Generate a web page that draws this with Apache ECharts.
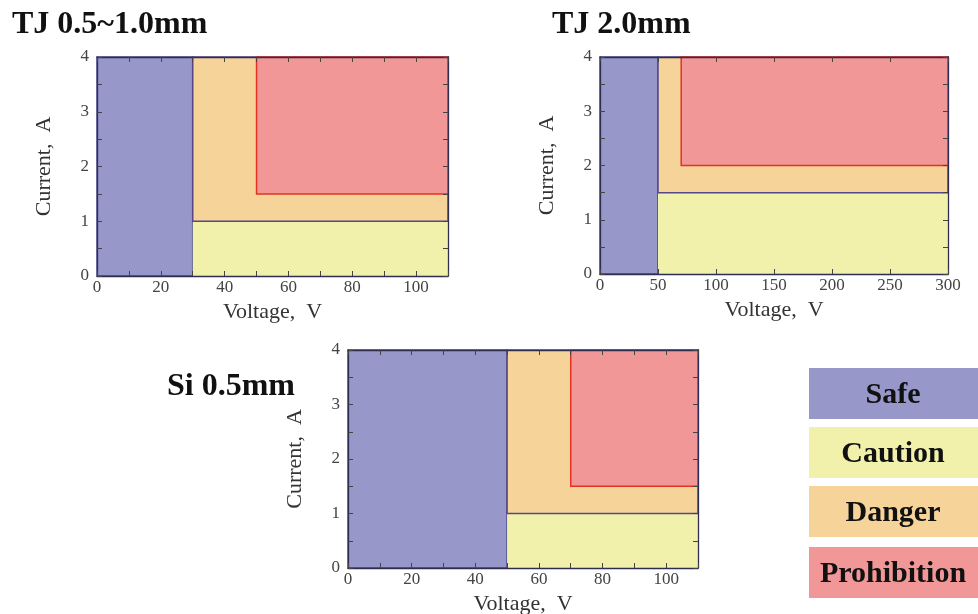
<!DOCTYPE html>
<html>
<head>
<meta charset="utf-8">
<script src="https://cdn.jsdelivr.net/npm/echarts@6/dist/echarts.min.js"></script>
<style>
  html, body { margin: 0; padding: 0; background: #fff; }
  #main { width: 978px; height: 614px; }
</style>
</head>
<body>
<div id="main"></div>
<script>
// 图表标题
const panelTitles = ['TJ 0.5~1.0mm', 'TJ 2.0mm', 'Si 0.5mm']
// 电压轴: 最大值, 刻度间隔, 标签间隔
const voltageMax = [110, 300, 110]
const voltageTick = [10, 50, 10]
const voltageLabelStep = [20, 50, 20]
// 电流轴
const currentMax = [4, 4, 4]
const currentTick = 0.5
// 每个区域 [x0, x1, y0, y1]
const safeZone = [[0, 30, 0, 4], [0, 50, 0, 4], [0, 50, 0, 4]]
const cautionZone = [[30, 110, 0, 1], [50, 300, 0, 1.5], [50, 110, 0, 1]]
const dangerZone = [[30, 110, 1, 4], [50, 300, 1.5, 4], [50, 110, 1, 4]]
const prohibitionZone = [[50, 110, 1.5, 4], [70, 300, 2, 4], [70, 110, 1.5, 4]]
const legendLabels = ['Safe', 'Caution', 'Danger', 'Prohibition']

const colors = ['#9797c9', '#f1f1ab', '#f6d398', '#f29797']
const strokes = ['#45458c', null, '#55478a', '#e0341f']
const serif = 'Liberation Serif, Times New Roman, serif'

const grids = [
  { left: 97, top: 57, width: 351, height: 219, outerBoundsMode: 'none' },
  { left: 600, top: 57, width: 348, height: 217, outerBoundsMode: 'none' },
  { left: 348, top: 350, width: 350, height: 218, outerBoundsMode: 'none' }
]

const xAxes = []
const yAxes = []
const series = []
const zones = [safeZone, cautionZone, dangerZone, prohibitionZone]

grids.forEach((g, i) => {
  const common = {
    gridIndex: i,
    min: 0,
    z: 10,
    axisLine: { onZero: false, lineStyle: { color: '#2e2e55', width: 1.3 } },
    axisTick: { show: true, inside: true, length: 5, lineStyle: { color: '#444' } },
    splitLine: { show: false }
  }
  const xLabel = (v) => (v % voltageLabelStep[i] === 0 && v < voltageMax[i] ? String(v) : '')
  const yLabel = (v) => (Number.isInteger(v) ? String(v) : '')
  xAxes.push(Object.assign({}, common, {
    type: 'value',
    max: voltageMax[i],
    interval: voltageTick[i],
    position: 'bottom',
    name: 'Voltage,  V',
    nameLocation: 'middle',
    nameGap: 25,
    nameTextStyle: { fontFamily: serif, fontSize: 22, color: '#333' },
    axisLabel: { fontFamily: serif, fontSize: 17, color: '#444', margin: 3, formatter: i === 1 ? undefined : xLabel }
  }))
  xAxes.push(Object.assign({}, common, {
    type: 'value',
    max: voltageMax[i],
    interval: voltageTick[i],
    position: 'top',
    axisLabel: { show: false }
  }))
  yAxes.push(Object.assign({}, common, {
    type: 'value',
    max: currentMax[i],
    interval: currentTick,
    position: 'left',
    name: 'Current,  A',
    nameLocation: 'middle',
    nameGap: 42,
    nameTextStyle: { fontFamily: serif, fontSize: 22, color: '#333' },
    axisLabel: { fontFamily: serif, fontSize: 17, color: '#444', margin: 8, formatter: yLabel }
  }))
  yAxes.push(Object.assign({}, common, {
    type: 'value',
    max: currentMax[i],
    interval: currentTick,
    position: 'right',
    axisLabel: { show: false }
  }))

  // 区域矩形
  zones.forEach((zone, k) => {
    series.push({
      type: 'custom',
      name: legendLabels[k],
      xAxisIndex: i * 2,
      yAxisIndex: i * 2,
      z: 2 + k,
      data: [zone[i]],
      renderItem (params, api) {
        const p0 = api.coord([api.value(0), api.value(3)])
        const p1 = api.coord([api.value(1), api.value(2)])
        return {
          type: 'rect',
          shape: { x: p0[0], y: p0[1], width: p1[0] - p0[0], height: p1[1] - p0[1] },
          style: {
            fill: colors[k],
            stroke: strokes[k] || 'none',
            lineWidth: 1.5
          }
        }
      }
    })
  })
})

// 标题
const titlePos = [[12, 9], [552, 9], [167, 371]]
const graphic = panelTitles.map((t, i) => ({
  type: 'text',
  left: titlePos[i][0],
  top: titlePos[i][1],
  style: { text: t, font: 'bold 32px ' + serif, fill: '#111' }
}))

// 图例方块
const legendTop = [368, 427, 486, 547]
legendLabels.forEach((label, k) => {
  graphic.push({
    type: 'group',
    left: 809,
    top: legendTop[k],
    children: [
      { type: 'rect', shape: { x: 0, y: 0, width: 169, height: 51 }, style: { fill: colors[k] } },
      {
        type: 'text',
        x: 84,
        y: 27,
        style: { text: label, font: 'bold 30px ' + serif, fill: '#111', align: 'center', verticalAlign: 'middle' }
      }
    ]
  })
})

const myChart = echarts.init(document.getElementById('main'))
myChart.setOption({
  animation: false,
  backgroundColor: '#fff',
  grid: grids,
  xAxis: xAxes,
  yAxis: yAxes,
  series: series,
  graphic: graphic
})
</script>
</body>
</html>
